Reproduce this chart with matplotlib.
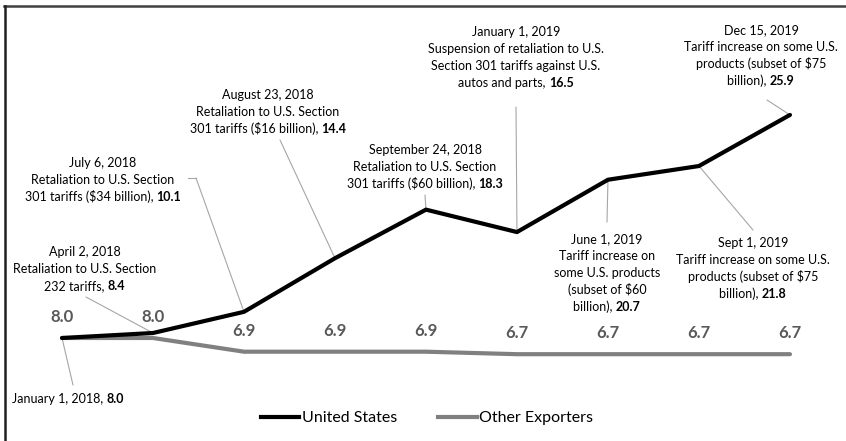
import matplotlib
matplotlib.use("Agg")
import matplotlib.pyplot as plt
from matplotlib.lines import Line2D

plt.rcParams['font.family'] = ['Lato', 'DejaVu Sans']

# ---- data ----
series_names = ["United States", "Other Exporters"]
us_values = [8.0, 8.4, 10.1, 14.4, 18.3, 16.5, 20.7, 21.8, 25.9]
other_values = [8.0, 8.0, 6.9, 6.9, 6.9, 6.7, 6.7, 6.7, 6.7]
event_texts = [
    "January 1, 2018",
    "April 2, 2018\nRetaliation to U.S. Section\n232 tariffs",
    "July 6, 2018\nRetaliation to U.S. Section\n301 tariffs ($34 billion)",
    "August 23, 2018\nRetaliation to U.S. Section\n301 tariffs ($16 billion)",
    "September 24, 2018\nRetaliation to U.S. Section\n301 tariffs ($60 billion)",
    "January 1, 2019\nSuspension of retaliation to U.S.\nSection 301 tariffs against U.S.\nautos and parts",
    "June 1, 2019\nTariff increase on\nsome U.S. products\n(subset of $60\nbillion)",
    "Sept 1, 2019\nTariff increase on some U.S.\nproducts (subset of $75\nbillion)",
    "Dec 15, 2019\nTariff increase on some U.S.\nproducts (subset of $75\nbillion)",
]

W, H = 846, 441
fig = plt.figure(figsize=(W / 100, H / 100), dpi=100)
renderer = fig.canvas.get_renderer()

# axes placed so data -> pixel mapping matches reference
ax_left, ax_right, ax_top, ax_bot = 20, 830, 10, 400
ax = fig.add_axes([ax_left / W, (H - ax_bot) / H, (ax_right - ax_left) / W, (ax_bot - ax_top) / H])
ax.set_xlim(-0.4615, 8.44)
ax.set_ylim(3.024, 34.32)
ax.axis('off')

x = list(range(len(us_values)))
ax.plot(x, other_values, color='#808080', lw=3.0, solid_capstyle='round', solid_joinstyle='round', zorder=2)
ax.plot(x, us_values, color='#000000', lw=3.0, solid_capstyle='round', solid_joinstyle='round', zorder=3)

# data labels for other exporters
for xi, v in zip(x, other_values):
    ax.annotate(f"{v:.1f}", xy=(xi, v), xytext=(0, 15), textcoords='offset points',
                ha='center', va='center', fontsize=12, fontweight='bold', color='#595959')

# annotation layout: (text center x, first line center y) in top-origin pixels, leader start
layout = [
    ((68, 399), (73, 385)),
    ((85, 252), (86, 297)),
    ((103, 163), (196, 178)),
    ((268, 95), (280, 140)),
    ((425, 150), (425, 195)),
    ((516, 32), (516, 107)),
    ((607, 239), (607, 222)),
    ((753, 243), (753, 230)),
    ((761, 30), (767, 100)),
]
LINE_PX = 17
FS = 9
lead_col = '#a6a6a6'


def text_width(s, weight):
    t = fig.text(0, 0, s, fontsize=FS, fontweight=weight)
    w = t.get_window_extent(renderer).width
    t.remove()
    return w


for i, (txt, ((tx, ty), (lx, ly))) in enumerate(zip(event_texts, layout)):
    lines = txt.split("\n")
    for k, line in enumerate(lines):
        base_y = H - (ty + k * LINE_PX + 4)
        if k < len(lines) - 1:
            fig.text(tx / W, base_y / H, line, ha='center', va='baseline', fontsize=FS,
                     color='#000000')
        else:
            reg = line + ", "
            bold = f"{us_values[i]:.1f}"
            wr = text_width(reg, 'normal')
            wb = text_width(bold, 'bold')
            x0 = tx - (wr + wb) / 2
            fig.text(x0 / W, base_y / H, reg, ha='left', va='baseline', fontsize=FS,
                     color='#000000')
            fig.text((x0 + wr) / W, base_y / H, bold, ha='left', va='baseline', fontsize=FS,
                     fontweight='bold', color='#000000')
    ax.annotate('', xy=(i, us_values[i]), xytext=(lx, H - ly), textcoords='figure pixels',
                arrowprops=dict(arrowstyle='-', color=lead_col, lw=0.8, shrinkA=0, shrinkB=0),
                zorder=1)

# small horizontal elbow on the July leader
fig.add_artist(Line2D([188 / W, 196 / W], [(H - 178) / H, (H - 178) / H],
                      color=lead_col, lw=0.8, transform=fig.transFigure))

# legend
handles = [Line2D([0], [0], color='#000000', lw=3.0),
           Line2D([0], [0], color='#808080', lw=3.0)]
fig.legend(handles, series_names, loc='center', bbox_to_anchor=(427 / W, (H - 418) / H),
           ncol=2, frameon=False, fontsize=11.5, handlelength=2.4, handletextpad=0.15,
           columnspacing=2.6)

# outer frame (top and left)
fig.add_artist(Line2D([4 / W, 1.0], [(H - 6) / H, (H - 6) / H], color='#404040', lw=1.8,
                      transform=fig.transFigure))
fig.add_artist(Line2D([5 / W, 5 / W], [0, (H - 6) / H], color='#202020', lw=1.8,
                      transform=fig.transFigure))

fig.savefig('out.png', dpi=100)
